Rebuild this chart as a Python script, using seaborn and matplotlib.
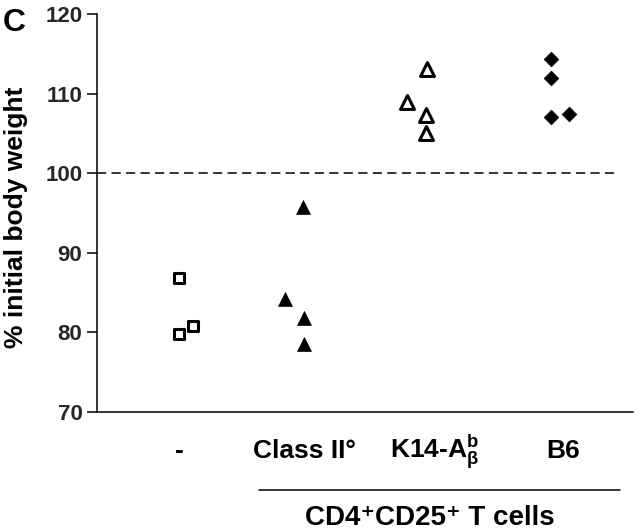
import numpy as np
import pandas as pd
import matplotlib
matplotlib.use('Agg')
import matplotlib.pyplot as plt
import seaborn as sns

# data
groups = ['-', 'Class II°', 'K14-A$_β^b$', 'B6']
label_x = [0.0, 0.98, 2.0, 3.0]
none_x = [0.0, 0.0, 0.11]
none_y = [86.8, 79.75, 80.8]
class2_x = [0.83, 0.98, 0.98, 0.97]
class2_y = [84.2, 81.8, 78.6, 95.7]
k14_x = [1.78, 1.93, 1.93, 1.94]
k14_y = [109.0, 107.3, 105.0, 113.1]
b6_x = [2.91, 2.91, 2.91, 3.05]
b6_y = [114.3, 112.0, 107.0, 107.5]
y_ticks = [70, 80, 90, 100, 110, 120]
baseline = 100

sns.set_theme(style='white')
plt.rcParams['font.family'] = ['Liberation Sans', 'DejaVu Sans']
plt.rcParams['font.weight'] = 'bold'
plt.rcParams['mathtext.default'] = 'regular'

fig = plt.figure(figsize=(6.4, 5.31), dpi=100)
ax = fig.add_axes([0.1516, 0.2241, 0.8375, 0.7495])

df_none = pd.DataFrame({'x': none_x, 'y': none_y})
df_c2 = pd.DataFrame({'x': class2_x, 'y': class2_y})
df_k14 = pd.DataFrame({'x': k14_x, 'y': k14_y})
df_b6 = pd.DataFrame({'x': b6_x, 'y': b6_y})

sns.scatterplot(data=df_none, x='x', y='y', marker='s', s=55, facecolor='white',
                edgecolor='black', linewidth=2.2, ax=ax, zorder=3)
sns.scatterplot(data=df_c2, x='x', y='y', marker='^', s=100, color='black',
                edgecolor='black', linewidth=0.5, ax=ax, zorder=3)
sns.scatterplot(data=df_k14, x='x', y='y', marker='^', s=100, facecolor='white',
                edgecolor='black', linewidth=2.2, ax=ax, zorder=3)
sns.scatterplot(data=df_b6, x='x', y='y', marker='D', s=56, color='black',
                edgecolor='black', linewidth=0.5, ax=ax, zorder=3)

ax.axhline(baseline, xmin=0, xmax=0.97, color='black', lw=1.1, ls=(0, (6, 3.5)), zorder=2)

ax.set_xlim(-0.64, 3.55)
ax.set_ylim(70, 120)
ax.set_yticks(y_ticks)
ax.set_xticks([])
ax.tick_params(axis='y', left=True, length=7, width=1.1, pad=3.5, labelsize=16, color='black')
for lab in ax.get_yticklabels():
    lab.set_fontweight('bold')
for side in ['top', 'right']:
    ax.spines[side].set_visible(False)
for side in ['left', 'bottom']:
    ax.spines[side].set_color('black')
    ax.spines[side].set_linewidth(1.1)

ax.set_xlabel('')
ax.set_ylabel('% initial body weight', fontsize=19, fontweight='bold', color='black')
ax.yaxis.set_label_coords(-0.128, 0.49)

trans = ax.get_xaxis_transform()
for gx, g in zip(label_x, groups):
    ax.text(gx, -0.1156, g, transform=trans, ha='center', va='baseline',
            fontsize=19, fontweight='bold', color='black')

ax.plot([0.625, 3.45], [-0.196, -0.196], transform=trans, color='black', lw=1.1, clip_on=False)
ax.text(1.96, -0.285, 'CD4⁺CD25⁺ T cells', transform=trans, ha='center', va='baseline',
        fontsize=20, fontweight='bold', color='black')

fig.text(0.004, 0.985, 'C', ha='left', va='top', fontsize=23, fontweight='bold', color='black')

fig.savefig('out.png', dpi=100, facecolor='white')
